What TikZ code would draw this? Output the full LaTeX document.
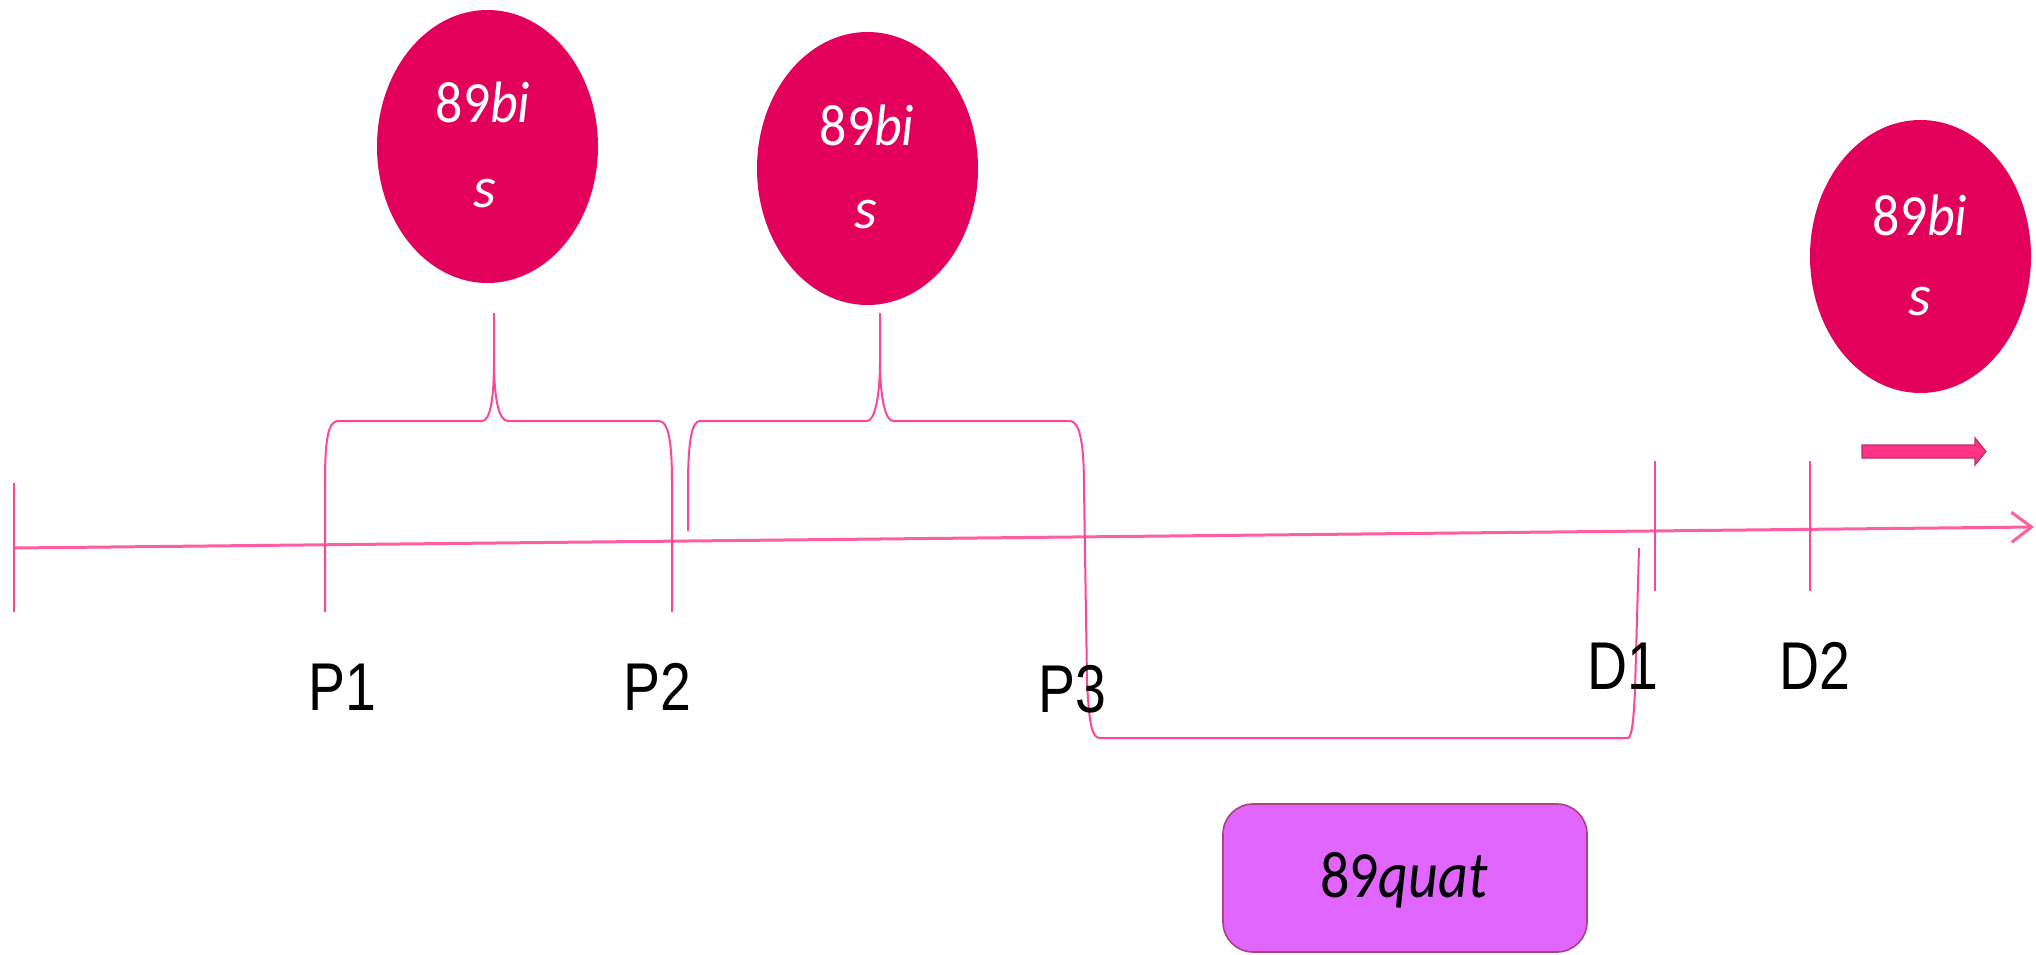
\documentclass[tikz,border=0pt]{standalone}
\usepackage{fontspec}
\setmainfont{Carlito}
\newfontfamily\arialf{Liberation Sans}
\usetikzlibrary{shapes.geometric,arrows.meta}
\definecolor{crim}{HTML}{E3005A}
\definecolor{linepink}{HTML}{FF4595}
\definecolor{axispink}{HTML}{FF5FA0}
\definecolor{boxfill}{HTML}{E066FF}
\definecolor{boxedge}{HTML}{B0407F}
\definecolor{arrowfill}{HTML}{FF3385}
\definecolor{arrowedge}{HTML}{B8306A}
\begin{document}
\begin{tikzpicture}[x=0.5pt,y=-0.5pt,
  bubble/.style={ellipse, fill=crim, draw=none, minimum width=110.5pt, minimum height=136.5pt, inner sep=0pt},
  bubtext/.style={text=white, font=\fontsize{29.25}{35}\selectfont, anchor=base, inner sep=0pt},
  tickline/.style={draw=linepink, line width=1pt},
  bracepath/.style={draw=linepink, line width=1pt},
  axisline/.style={draw=axispink, line width=1.5pt},
  lab/.style={font=\arialf\fontsize{33.8}{40}\selectfont, anchor=base, inner sep=0pt},
  quatbox/.style={draw=boxedge, fill=boxfill, rounded corners=15pt, minimum width=182pt, minimum height=74pt, line width=0.8pt, inner sep=0pt},
  fatarrow/.style={draw=arrowedge, fill=arrowfill, line width=0.6pt, line join=miter}]
\useasboundingbox (0,0) rectangle (2036,954);

% bubbles
\node[bubble] (e1) at (487.5,146.5) {};
\node[bubtext] (t1a) at (483,122) {\scalebox{0.92}[1]{89\textit{bi}}};
\node[bubtext] (t1b) at (485,207) {\textit{s}};
\node[bubble] (e2) at (867.5,168.5) {};
\node[bubtext] (t2a) at (867,145) {\scalebox{0.92}[1]{89\textit{bi}}};
\node[bubtext] (t2b) at (866,228) {\textit{s}};
\node[bubble] (e3) at (1920.5,256.5) {};
\node[bubtext] (t3a) at (1920,235) {\scalebox{0.92}[1]{89\textit{bi}}};
\node[bubtext] (t3b) at (1920,315) {\textit{s}};

% axis
\coordinate (a0) at (14,548);
\coordinate (a1) at (2034,527);
\draw[axisline,-{Straight Barb[length=10pt,width=15pt]}] (a0) -- (a1);

% ticks
\coordinate (l0) at (14,483); \coordinate (l1) at (14,612);
\draw[tickline] (l0) -- (l1);
\coordinate (d1a) at (1655,461); \coordinate (d1b) at (1655,591);
\draw[tickline] (d1a) -- (d1b);
\coordinate (d2a) at (1810,461); \coordinate (d2b) at (1810,591);
\draw[tickline] (d2a) -- (d2b);

% brace 1 (P1 - P2)
\draw[bracepath] (325,612) -- (325,483) .. controls (325,440) and (328,421) .. (338,421)
  -- (482,421) .. controls (490,421) and (494,400) .. (494,360) -- (494,313)
  (494,360) .. controls (494,400) and (499,421) .. (508,421)
  -- (659,421) .. controls (668,421) and (672,440) .. (672,483) -- (672,612);

% brace 2 (P2 - P3) and lower bracket (P3 - D1)
\draw[bracepath] (688,531) -- (688,487) .. controls (688,440) and (692,421) .. (700,421)
  -- (867,421) .. controls (874,421) and (880,400) .. (880,360) -- (880,313)
  (880,360) .. controls (880,400) and (886,421) .. (893,421)
  -- (1070,421) .. controls (1079,421) and (1084,440) .. (1084,487)
  -- (1087,680) .. controls (1089,725) and (1092,738) .. (1100,738)
  -- (1628,738) .. controls (1632,738) and (1634,715) .. (1635,690) -- (1639,548);

% labels
\node[lab] (p1) at (342,710) {\scalebox{0.82}[1]{P1}};
\node[lab] (p2) at (657,710) {\scalebox{0.82}[1]{P2}};
\node[lab] (p3) at (1072,712) {\scalebox{0.82}[1]{P3}};
\node[lab] (dd1) at (1623,689) {\scalebox{0.82}[1]{D1}};
\node[lab] (dd2) at (1815,689) {\scalebox{0.82}[1]{D2}};

% box
\node[quatbox] (box) at (1405,878) {};
\node[anchor=base, inner sep=0pt, font=\fontsize{33}{40}\selectfont] (bt) at (1404,897) {\scalebox{0.88}[1]{89\textit{quat}}};

% fat arrow
\draw[fatarrow] (1862,445) -- (1975,445) -- (1975,438) -- (1986,451.5) -- (1975,465) -- (1975,458) -- (1862,458) -- cycle;
\end{tikzpicture}
\end{document}
